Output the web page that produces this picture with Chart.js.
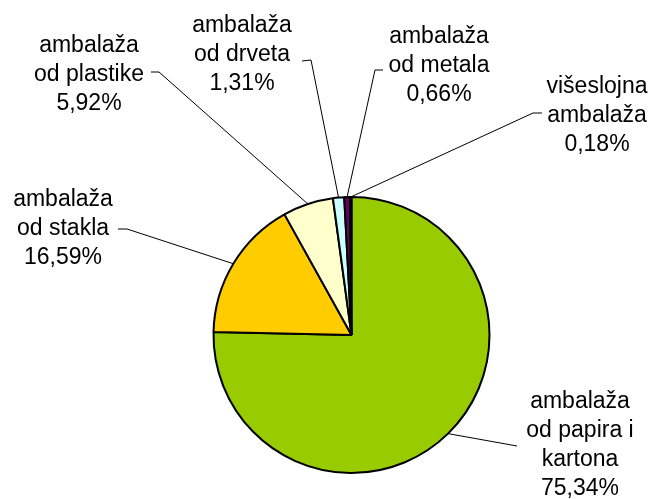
<!DOCTYPE html>
<html>
<head>
<meta charset="utf-8">
<script src="https://cdn.jsdelivr.net/npm/chart.js@4"></script>
<style>
  html, body { margin: 0; padding: 0; background: #ffffff; }
  #wrap { width: 651px; height: 499px; }
</style>
</head>
<body>
<div id="wrap"><canvas id="c" width="651" height="499"></canvas></div>
<script>
const categories = [
  'ambalaža\nod papira i\nkartona',
  'ambalaža\nod stakla',
  'ambalaža\nod plastike',
  'ambalaža\nod drveta',
  'ambalaža\nod metala',
  'višeslojna\nambalaža'
];
const shares = [75.34, 16.59, 5.92, 1.31, 0.66, 0.18];
const sliceColors = ['#99CC00', '#FFCC00', '#FFFFCC', '#CCFFFF', '#660066', '#000000'];

// label layout: text centre x, first baseline y, and leader tick (label end -> elbow)
const labelLayout = [
  { x: 580, y: 408, tick: [517, 446, 517, 446] },
  { x: 63,  y: 206, tick: [118, 229, 127, 229] },
  { x: 89,  y: 52,  tick: [151, 72, 159, 72] },
  { x: 242, y: 32,  tick: [302, 61, 311, 60] },
  { x: 439, y: 43,  tick: [383, 70, 375, 70] },
  { x: 597, y: 93,  tick: [542, 113, 533, 113] }
];

const fmt = v => v.toFixed(2).replace('.', ',') + '%';

const labelPlugin = {
  id: 'pieLabels',
  afterDraw(chart, args, opts) {
    const ctx = chart.ctx;
    const meta = chart.getDatasetMeta(0);
    ctx.save();
    meta.data.forEach((arc, i) => {
      const p = arc.getProps(['x', 'y', 'startAngle', 'endAngle', 'outerRadius'], true);
      const mid = (p.startAngle + p.endAngle) / 2;
      const ex = p.x + Math.cos(mid) * p.outerRadius;
      const ey = p.y + Math.sin(mid) * p.outerRadius;
      const L = opts.layout[i];
      ctx.strokeStyle = '#000000';
      ctx.lineWidth = 1;
      ctx.beginPath();
      ctx.moveTo(L.tick[0], L.tick[1]);
      ctx.lineTo(L.tick[2], L.tick[3]);
      ctx.lineTo(ex, ey);
      ctx.stroke();

      const lines = chart.data.labels[i].split('\n');
      lines.push(fmt(chart.data.datasets[0].data[i]));
      ctx.fillStyle = '#000000';
      ctx.font = opts.font;
      ctx.textAlign = 'center';
      ctx.textBaseline = 'alphabetic';
      lines.forEach((t, k) => ctx.fillText(t, L.x, L.y + k * opts.lineHeight));
    });
    ctx.restore();
  }
};

new Chart(document.getElementById('c'), {
  type: 'pie',
  data: {
    labels: categories,
    datasets: [{
      data: shares,
      backgroundColor: sliceColors,
      borderColor: '#000000',
      borderWidth: 2
    }]
  },
  options: {
    responsive: false,
    animation: false,
    events: [],
    layout: { padding: { left: 212, right: 160, top: 196, bottom: 25 } },
    plugins: {
      legend: { display: false },
      tooltip: { enabled: false },
      pieLabels: {
        layout: labelLayout,
        font: '23px "Liberation Sans", Arial, sans-serif',
        lineHeight: 29
      }
    }
  },
  plugins: [labelPlugin]
});
</script>
</body>
</html>
